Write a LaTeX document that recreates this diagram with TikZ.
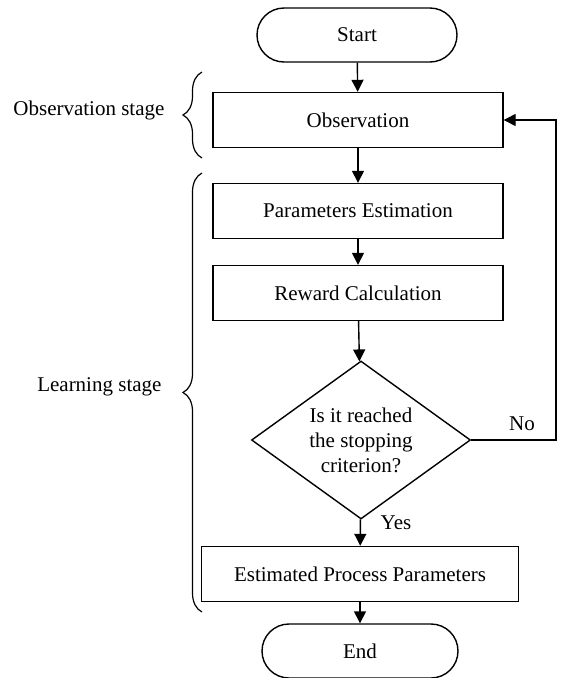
\documentclass[tikz,border=0pt]{standalone}
\usepackage{fontspec}
\setmainfont{Liberation Serif}
\usetikzlibrary{shapes.geometric,shapes.misc,arrows.meta,decorations.pathreplacing}

\tikzset{
    every node/.style={font=\fontsize{21}{25}\selectfont},
    procbox/.style={draw, line width=1.4pt, inner sep=0pt, minimum width=290pt, minimum height=55pt},
    termbox/.style={draw, line width=1.4pt, rounded rectangle, inner sep=0pt, minimum width=200pt, minimum height=54pt},
    decbox/.style={draw, line width=1.4pt, diamond, aspect=1.39, inner sep=0pt, align=center, minimum width=219pt, minimum height=158pt},
    flow/.style={line width=1.4pt, -{Triangle[length=12pt,width=12pt]}},
    stagebrace/.style={line width=1.2pt, decorate, decoration={brace, amplitude=19pt}}
}

\begin{document}
\begin{tikzpicture}[x=1pt, y=-1pt]
    \useasboundingbox (0,0) rectangle (565,678);
    \node[termbox] (start) at (357,35) {Start};
    \node[procbox] (obs) at (358,120) {Observation};
    \node[procbox] (est) at (358,211) {Parameters Estimation};
    \node[procbox] (rew) at (358,293) {Reward Calculation};
    \node[decbox] (crit) at (361,440) {Is it reached\\the stopping\\criterion?};
    \node[procbox, minimum width=317pt] (res) at (360,574) {Estimated Process Parameters};
    \node[termbox, minimum width=196pt] (stop) at (360,651) {End};
    \coordinate (back) at (556,440);

    \draw[flow] (start) -- (obs);
    \draw[flow] (obs) -- (est);
    \draw[flow] (est) -- (rew);
    \draw[flow] (rew) -- (crit);
    \draw[flow] (crit) -- (res);
    \draw[flow] (res) -- (stop);
    \draw[flow] (crit.east) -- (back) |- (obs.east);
    \node (no) at (522,424) {No};
    \node (yes) at (396,523) {Yes};

    \coordinate (obsb) at (202,158);
    \coordinate (obst) at (202,72);
    \coordinate (lrnb) at (202,612);
    \coordinate (lrnt) at (202,173);
    \draw[stagebrace] (obsb) -- (obst);
    \draw[stagebrace] (lrnb) -- (lrnt);
    \node[anchor=east] (obslab) at (168,110) {Observation stage};
    \node[anchor=east] (lrnlab) at (165,387) {Learning stage};
\end{tikzpicture}
\end{document}
